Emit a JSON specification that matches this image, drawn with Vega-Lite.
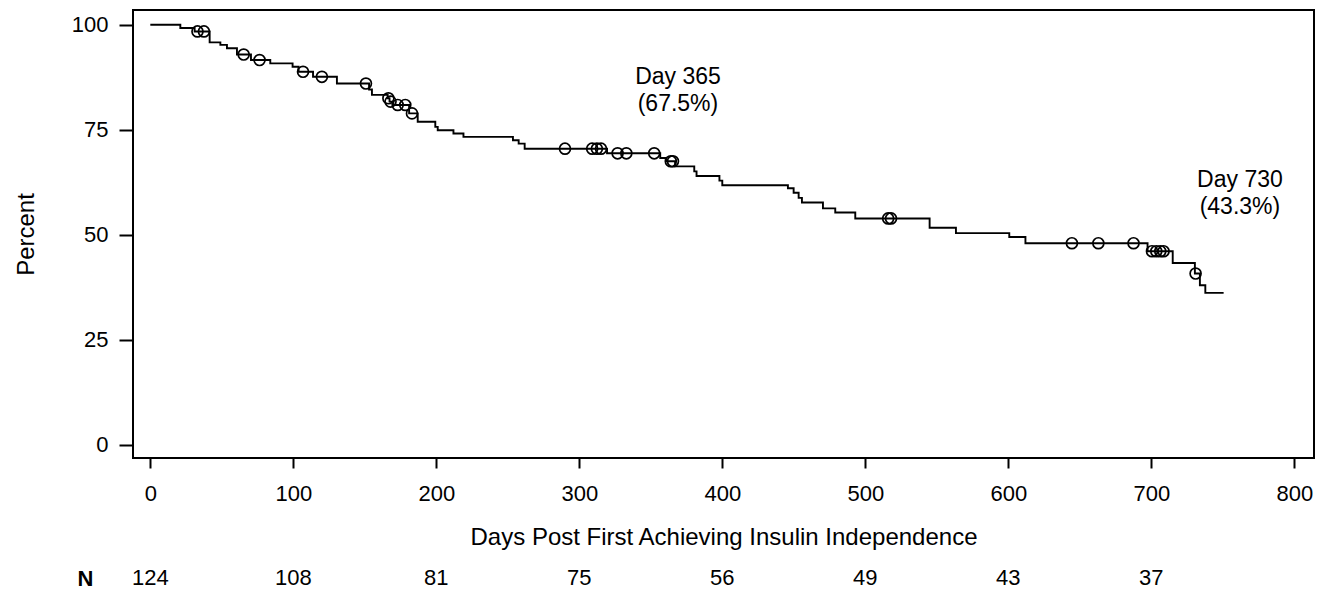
{
  "$schema": "https://vega.github.io/schema/vega-lite/v6.json",
  "padding": {"left": 13, "top": 9, "right": 5, "bottom": 5},
  "background": "white",
  "config": {
    "font": "Liberation Sans",
    "view": {"stroke": "black", "strokeWidth": 2},
    "axis": {"domain": false, "grid": false, "tickColor": "black", "tickWidth": 2, "labelColor": "black", "titleColor": "black", "labelFont": "Liberation Sans", "titleFont": "Liberation Sans", "labelFontSize": 22, "titleFontSize": 24, "titleFontWeight": "normal", "labelFlush": false, "labelOverlap": false},
    "concat": {"spacing": 17}
  },
  "datasets": {
    "km": [
      {"day": 0, "pct": 100}, {"day": 21, "pct": 99.2}, {"day": 31, "pct": 98.4}, {"day": 41.5, "pct": 95.8},
      {"day": 49, "pct": 95.2}, {"day": 53.6, "pct": 94.4}, {"day": 60.6, "pct": 92.9}, {"day": 70.4, "pct": 91.6},
      {"day": 83.9, "pct": 90.8}, {"day": 99.5, "pct": 90.0}, {"day": 103.7, "pct": 88.8}, {"day": 113.8, "pct": 87.6},
      {"day": 130.5, "pct": 86.0}, {"day": 153, "pct": 84.6}, {"day": 155, "pct": 83.3}, {"day": 166, "pct": 82.5},
      {"day": 167.3, "pct": 81.7}, {"day": 170, "pct": 80.9}, {"day": 181, "pct": 78.9}, {"day": 187, "pct": 76.9},
      {"day": 199.3, "pct": 75.7}, {"day": 201, "pct": 74.9}, {"day": 212, "pct": 74.1}, {"day": 219, "pct": 73.3},
      {"day": 253.6, "pct": 72.5}, {"day": 257.6, "pct": 71.7}, {"day": 261.8, "pct": 70.5}, {"day": 319.4, "pct": 69.4},
      {"day": 356.6, "pct": 68.3}, {"day": 360.8, "pct": 67.5}, {"day": 367, "pct": 66.3}, {"day": 380.4, "pct": 65.1},
      {"day": 382, "pct": 64.0}, {"day": 398, "pct": 62.9}, {"day": 400, "pct": 61.8}, {"day": 445.9, "pct": 61.1},
      {"day": 449.9, "pct": 60.0}, {"day": 453.4, "pct": 58.8}, {"day": 455.7, "pct": 57.7}, {"day": 470.4, "pct": 56.3},
      {"day": 479, "pct": 55.3}, {"day": 493, "pct": 53.9}, {"day": 545, "pct": 51.7}, {"day": 563.4, "pct": 50.4},
      {"day": 600.7, "pct": 49.5}, {"day": 612, "pct": 48.0}, {"day": 697.4, "pct": 46.1}, {"day": 715, "pct": 43.3},
      {"day": 730.5, "pct": 40.8}, {"day": 734, "pct": 38.0}, {"day": 737.8, "pct": 36.2}, {"day": 750.6, "pct": 36.2}
    ],
    "censor": [
      {"day": 33, "pct": 98.4}, {"day": 37.5, "pct": 98.4}, {"day": 65.3, "pct": 92.9}, {"day": 76.4, "pct": 91.6},
      {"day": 106.8, "pct": 88.8}, {"day": 120, "pct": 87.6}, {"day": 150.8, "pct": 86.0}, {"day": 166.5, "pct": 82.5},
      {"day": 168, "pct": 81.7}, {"day": 173, "pct": 80.9}, {"day": 178.3, "pct": 80.9}, {"day": 183, "pct": 78.9},
      {"day": 290, "pct": 70.5}, {"day": 309, "pct": 70.5}, {"day": 312.3, "pct": 70.5}, {"day": 315.2, "pct": 70.5},
      {"day": 326.8, "pct": 69.4}, {"day": 332.9, "pct": 69.4}, {"day": 352.4, "pct": 69.4}, {"day": 364, "pct": 67.5},
      {"day": 365.5, "pct": 67.5}, {"day": 516, "pct": 53.9}, {"day": 518, "pct": 53.9}, {"day": 644.5, "pct": 48.0},
      {"day": 663, "pct": 48.0}, {"day": 687.6, "pct": 48.0}, {"day": 700.5, "pct": 46.1}, {"day": 703.5, "pct": 46.1},
      {"day": 706.3, "pct": 46.1}, {"day": 708.6, "pct": 46.1}, {"day": 731, "pct": 40.8}
    ],
    "notes": [
      {"day": 369, "pct": 85.9, "label": "Day 365\n(67.5%)"},
      {"day": 762, "pct": 61.3, "label": "Day 730\n(43.3%)"}
    ],
    "risk": [
      {"day": 0, "n": 124, "row": "N"}, {"day": 100, "n": 108, "row": "N"}, {"day": 200, "n": 81, "row": "N"},
      {"day": 300, "n": 75, "row": "N"}, {"day": 400, "n": 56, "row": "N"}, {"day": 500, "n": 49, "row": "N"},
      {"day": 600, "n": 43, "row": "N"}, {"day": 700, "n": 37, "row": "N"}
    ]
  },
  "vconcat": [
    {
      "width": 1181,
      "height": 448,
      "layer": [
        {
          "data": {"name": "km"},
          "mark": {"type": "line", "interpolate": "step-after", "color": "black", "strokeWidth": 1.9},
          "encoding": {
            "x": {"field": "day", "type": "quantitative", "scale": {"domain": [-12.1, 813.8], "nice": false, "zero": false},
                  "axis": {"values": [0, 100, 200, 300, 400, 500, 600, 700, 800], "tickSize": 10, "labelPadding": 15, "titlePadding": 21},
                  "title": "Days Post First Achieving Insulin Independence"},
            "y": {"field": "pct", "type": "quantitative", "scale": {"domain": [-3.1, 103.5], "nice": false, "zero": false},
                  "axis": {"values": [0, 25, 50, 75, 100], "tickSize": 14, "labelPadding": 11, "titlePadding": 33},
                  "title": "Percent"}
          }
        },
        {
          "data": {"name": "censor"},
          "mark": {"type": "point", "shape": "circle", "filled": false, "color": "black", "size": 120, "strokeWidth": 1.7, "opacity": 1},
          "encoding": {
            "x": {"field": "day", "type": "quantitative"},
            "y": {"field": "pct", "type": "quantitative"}
          }
        },
        {
          "data": {"name": "notes"},
          "mark": {"type": "text", "fontSize": 23, "lineBreak": "\n", "lineHeight": 27, "align": "center", "baseline": "alphabetic", "color": "black"},
          "encoding": {
            "x": {"field": "day", "type": "quantitative"},
            "y": {"field": "pct", "type": "quantitative"},
            "text": {"field": "label", "type": "nominal"}
          }
        }
      ]
    },
    {
      "width": 1181,
      "height": 20,
      "view": {"stroke": null},
      "data": {"name": "risk"},
      "mark": {"type": "text", "fontSize": 22, "color": "black", "baseline": "middle", "align": "center"},
      "encoding": {
        "x": {"field": "day", "type": "quantitative", "scale": {"domain": [-12.1, 813.8], "nice": false, "zero": false}, "axis": null},
        "y": {"field": "row", "type": "nominal", "axis": {"title": null, "ticks": false, "labelFontWeight": "bold", "labelPadding": 40, "labelFontSize": 22}},
        "text": {"field": "n", "type": "quantitative"}
      }
    }
  ]
}
